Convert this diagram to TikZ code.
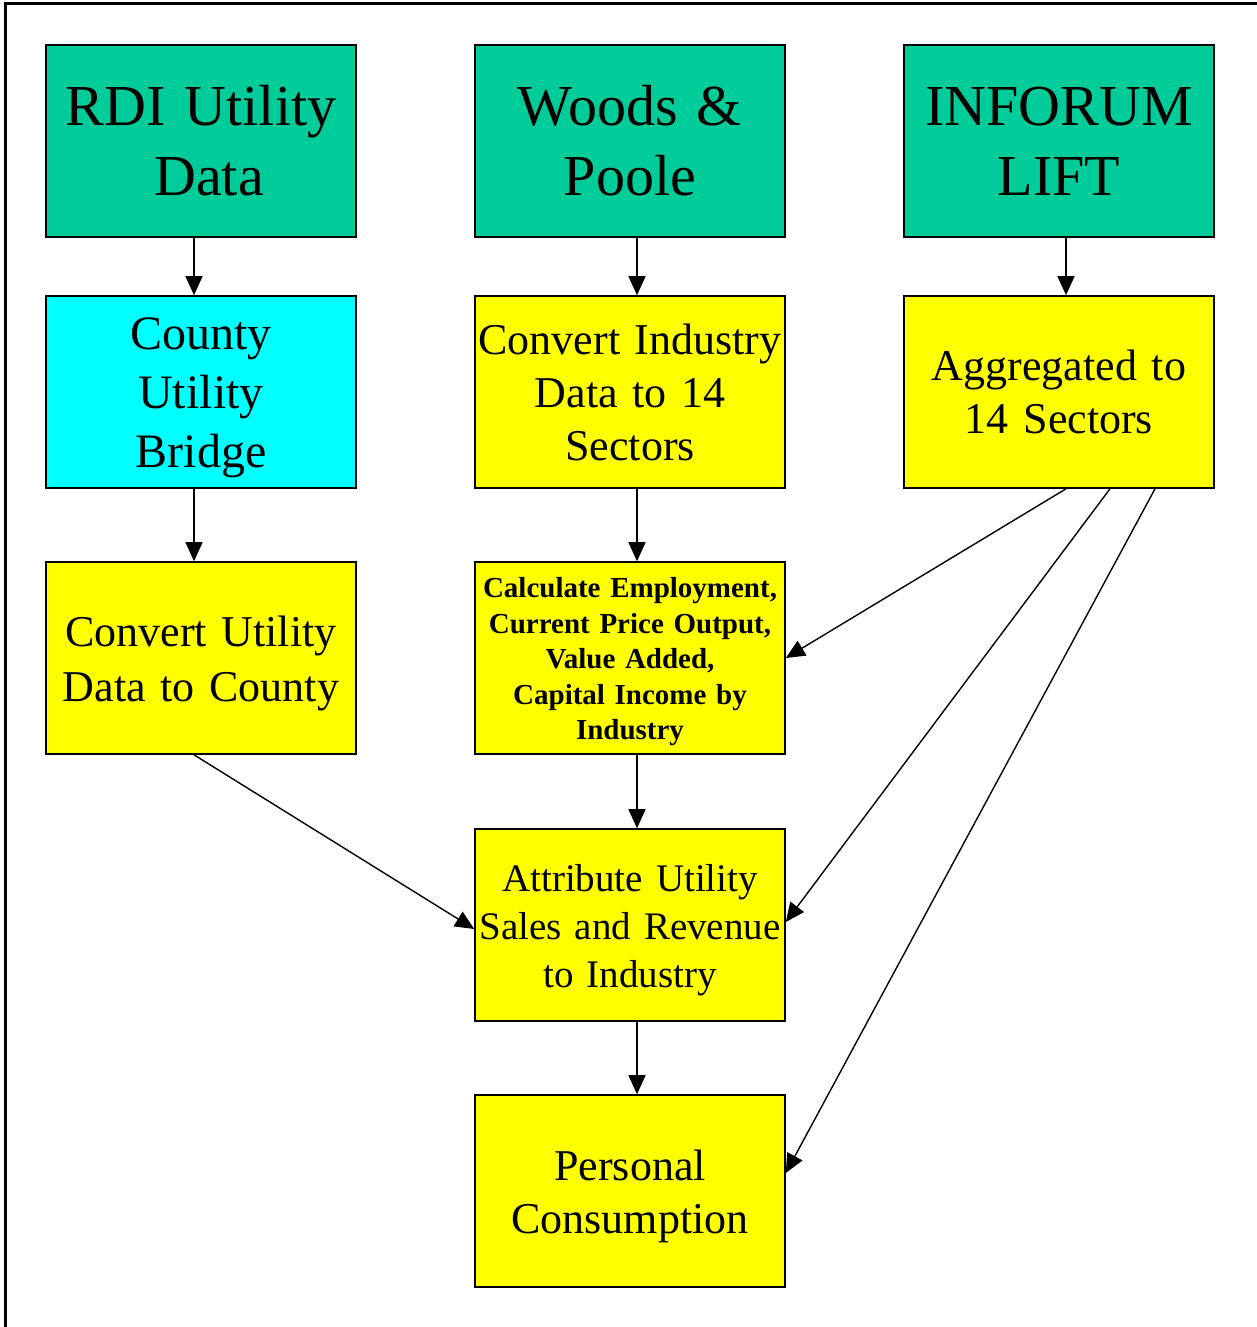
\documentclass[tikz,border=0pt]{standalone}
\usepackage{fontspec}
\setmainfont{Liberation Serif}
\usetikzlibrary{arrows.meta}
\definecolor{teal}{HTML}{00CC99}
\definecolor{cyanbox}{HTML}{00FFFF}
\definecolor{yel}{HTML}{FFFF00}
\tikzset{
  box/.style={draw=black, line width=1.6pt, minimum width=310pt, minimum height=192pt, inner sep=0pt},
  txt/.style={inner sep=0pt, align=center, text width=306pt},
  big/.style={font=\fontsize{58}{70}\selectfont},
  mid/.style={font=\fontsize{44}{53}\selectfont},
  arr/.style={line width=1.4pt, -{Triangle[length=19pt,width=17pt]}},
}
\begin{document}
\begin{tikzpicture}[x=1pt,y=-1pt]
\useasboundingbox (0,0) rectangle (1257,1327);
\clip (0,0) rectangle (1257,1327);
\fill[white] (0,0) rectangle (1257,1327);
\draw[line width=3pt] (5,1340) -- (5,4) -- (1270,4);
% boxes
\node[box, fill=teal] (rdi) at (201,141) {};
\node[box, fill=teal] (woods) at (630,141) {};
\node[box, fill=teal] (inforum) at (1059,141) {};
\node[box, fill=cyanbox] (county) at (201,392) {};
\node[box, fill=yel] (convi) at (630,392) {};
\node[box, fill=yel] (aggr) at (1059,392) {};
\node[box, fill=yel] (convu) at (201,658) {};
\node[box, fill=yel] (calc) at (630,658) {};
\node[box, fill=yel] (attr) at (630,925) {};
\node[box, fill=yel] (pers) at (630,1191) {};
% texts
\node[txt, big] (rdit) at (rdi.center) {RDI Utility\\\hspace*{16pt}Data};
\node[txt, big] (woodst) at (woods.center) {Woods \&\\Poole};
\node[txt, big] (inforumt) at (inforum.center) {INFORUM\\LIFT};
\node[txt, font=\fontsize{48}{59}\selectfont] (countyt) at ([yshift=-6pt]county.center) {County\\Utility\\Bridge};
\node[txt, mid] (convit) at (convi.center) {Convert Industry\\Data to 14\hspace*{10pt}\\Sectors};
\node[txt, mid] (aggrt) at (aggr.center) {Aggregated to\\14 Sectors};
\node[txt, font=\fontsize{44}{55}\selectfont] (convut) at ([yshift=-5pt]convu.center) {Convert Utility\\Data to County};
\node[txt, font=\fontsize{29}{35.5}\selectfont\bfseries] (calct) at ([yshift=-4pt]calc.center) {Calculate Employment,\\Current Price Output,\\Value Added,\\Capital Income by\\Industry};
\node[txt, font=\fontsize{39}{48}\selectfont] (attrt) at ([yshift=-5pt]attr.center) {Attribute Utility\\Sales and Revenue\\to Industry};
\node[txt, mid] (perst) at ([yshift=-5pt]pers.center) {Personal\\Consumption};
% connectors
\draw[arr] ([xshift=-7pt]rdi.south) -- ([xshift=-7pt]county.north);
\draw[arr] ([xshift=-7pt]county.south) -- ([xshift=-7pt]convu.north);
\draw[arr] ([xshift=-7pt]convu.south) -- ([yshift=-4pt]attr.west);
\draw[arr] ([xshift=7pt]woods.south) -- ([xshift=7pt]convi.north);
\draw[arr] ([xshift=7pt]convi.south) -- ([xshift=7pt]calc.north);
\draw[arr] ([xshift=7pt]calc.south) -- ([xshift=7pt]attr.north);
\draw[arr] ([xshift=7pt]attr.south) -- ([xshift=7pt]pers.north);
\draw[arr] ([xshift=7pt]inforum.south) -- ([xshift=7pt]aggr.north);
\draw[arr] ([xshift=7pt]aggr.south) -- (calc.east);
\draw[arr] ([xshift=51pt]aggr.south) -- ([yshift=3pt]attr.east);
\draw[arr] ([xshift=96pt]aggr.south) -- ([yshift=18pt]pers.east);
\end{tikzpicture}
\end{document}
